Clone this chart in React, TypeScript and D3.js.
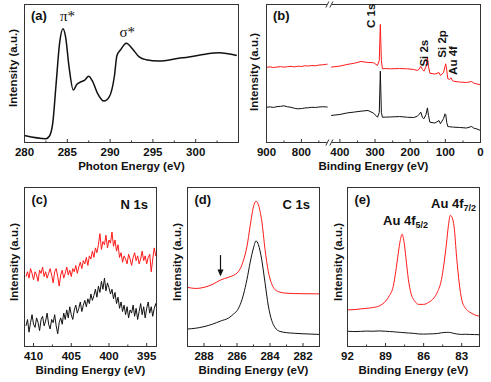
import React from 'react';
import * as d3 from 'd3';

// ---------- (a) C K-edge NEXAFS ----------
const nexafsEnergy = [280, 282.5, 282.9, 283.3, 283.7, 284.1, 284.5, 284.8, 285.2, 285.7, 286.1, 286.6, 287.0, 287.5, 287.9, 288.5, 289.3, 289.9, 290.5, 290.8, 291.2, 291.9, 292.6, 293.4, 294.2, 295.7, 298.0, 299.2, 301.1, 302.7, 304.8];
const nexafsIntensity = [0.05, 0.027, 0.045, 0.14, 0.43, 0.72, 0.825, 0.765, 0.55, 0.38, 0.42, 0.44, 0.45, 0.48, 0.45, 0.36, 0.30, 0.33, 0.48, 0.63, 0.67, 0.72, 0.68, 0.62, 0.60, 0.59, 0.61, 0.62, 0.64, 0.65, 0.63];
const nexafsTicks = [280, 285, 290, 295, 300];
const nexafsMinor = [282.5, 287.5, 292.5, 297.5, 302.5];

// ---------- (b) XPS survey (broken axis) ----------
const surveyLeftEnergy = [900, 890, 880, 870, 860, 850, 840, 830, 820, 810, 800, 790, 780, 770, 760, 750, 740, 730, 725];
const surveyLeftRed = [0.545, 0.548, 0.543, 0.547, 0.550, 0.546, 0.549, 0.552, 0.548, 0.553, 0.551, 0.556, 0.554, 0.558, 0.556, 0.561, 0.563, 0.566, 0.568];
const surveyLeftBlack = [0.256, 0.258, 0.254, 0.260, 0.262, 0.266, 0.259, 0.255, 0.248, 0.244, 0.246, 0.250, 0.252, 0.255, 0.254, 0.257, 0.259, 0.258, 0.257];
const surveyRightEnergy = [425, 400, 380, 358, 340, 320, 304, 293, 288, 285, 282, 279, 270, 256, 230, 208, 190, 180, 175, 170, 165, 161, 155, 151, 148, 144, 130, 118, 114, 105, 101, 99, 96, 93, 88, 84, 80, 76, 60, 40, 25, 19, 10, 0];
const surveyRightRed = [0.546, 0.554, 0.565, 0.575, 0.587, 0.580, 0.578, 0.558, 0.594, 0.855, 0.594, 0.534, 0.536, 0.534, 0.536, 0.534, 0.529, 0.522, 0.530, 0.551, 0.529, 0.517, 0.550, 0.618, 0.551, 0.502, 0.496, 0.507, 0.486, 0.507, 0.551, 0.570, 0.522, 0.462, 0.457, 0.469, 0.449, 0.444, 0.438, 0.435, 0.442, 0.430, 0.424, 0.418];
const surveyRightBlack = [0.196, 0.203, 0.214, 0.221, 0.227, 0.232, 0.212, 0.183, 0.217, 0.517, 0.217, 0.183, 0.184, 0.185, 0.188, 0.183, 0.181, 0.190, 0.203, 0.220, 0.181, 0.172, 0.203, 0.251, 0.196, 0.147, 0.141, 0.159, 0.136, 0.174, 0.208, 0.203, 0.145, 0.116, 0.114, 0.113, 0.112, 0.111, 0.109, 0.105, 0.116, 0.104, 0.098, 0.087];
const surveyLeftTicks = [900, 800];
const surveyLeftMinor = [850, 750];
const surveyRightTicks = [400, 300, 200, 100, 0];
const surveyRightMinor = [350, 250, 150, 50];
// label anchor (energy, intensity) = baseline / lower end of the rotated label
const surveyPeakLabels = ['C 1s', 'Si 2s', 'Si 2p', 'Au 4f'];
const surveyPeakLabelEnergy = [300, 150, 98, 68];
const surveyPeakLabelValue = [0.83, 0.55, 0.615, 0.49];

// ---------- (c) N 1s ----------
const n1sStart = 411.0;
const n1sStep = -0.2;
const n1sRed = [0.44, 0.47, 0.43, 0.49, 0.46, 0.42, 0.47, 0.45, 0.41, 0.48, 0.46, 0.50, 0.44, 0.47, 0.43, 0.46, 0.49, 0.45, 0.40, 0.47, 0.49, 0.44, 0.38, 0.45, 0.48, 0.43, 0.46, 0.50, 0.45, 0.48, 0.44, 0.49, 0.47, 0.51, 0.46, 0.50, 0.53, 0.49, 0.54, 0.52, 0.56, 0.51, 0.57, 0.55, 0.60, 0.56, 0.62, 0.59, 0.64, 0.71, 0.61, 0.66, 0.64, 0.70, 0.62, 0.67, 0.65, 0.72, 0.63, 0.67, 0.60, 0.64, 0.56, 0.59, 0.53, 0.57, 0.55, 0.52, 0.58, 0.55, 0.51, 0.56, 0.59, 0.54, 0.57, 0.52, 0.55, 0.60, 0.54, 0.57, 0.52, 0.56, 0.58, 0.47, 0.55, 0.62, 0.57, 0.60];
const n1sBlack = [0.13, 0.17, 0.09, 0.15, 0.20, 0.14, 0.12, 0.18, 0.15, 0.10, 0.17, 0.19, 0.13, 0.16, 0.21, 0.14, 0.11, 0.17, 0.15, 0.20, 0.13, 0.08, 0.15, 0.18, 0.14, 0.21, 0.17, 0.23, 0.18, 0.25, 0.20, 0.17, 0.23, 0.26, 0.21, 0.24, 0.28, 0.22, 0.26, 0.29, 0.25, 0.30, 0.27, 0.33, 0.29, 0.32, 0.36, 0.31, 0.38, 0.34, 0.41, 0.36, 0.43, 0.35, 0.40, 0.37, 0.33, 0.36, 0.30, 0.34, 0.27, 0.31, 0.24, 0.28, 0.22, 0.26, 0.20, 0.25, 0.18, 0.23, 0.21, 0.26, 0.19, 0.24, 0.17, 0.22, 0.27, 0.20, 0.25, 0.18, 0.24, 0.28, 0.21, 0.25, 0.19, 0.24, 0.27, 0.22];
const n1sTicks = [410, 405, 400, 395];
const n1sMinor = [407.5, 402.5, 397.5];

// ---------- (d) C 1s ----------
const c1sEnergy = [289.0, 288.5, 288.0, 287.5, 287.0, 286.5, 286.2, 286.0, 285.8, 285.6, 285.4, 285.2, 285.0, 284.85, 284.7, 284.5, 284.3, 284.1, 283.9, 283.7, 283.4, 283.0, 282.5, 282.0, 281.0];
const c1sRed = [0.372, 0.365, 0.372, 0.390, 0.418, 0.436, 0.448, 0.462, 0.490, 0.545, 0.627, 0.760, 0.880, 0.914, 0.890, 0.790, 0.610, 0.470, 0.395, 0.358, 0.342, 0.335, 0.333, 0.332, 0.331];
const c1sBlack = [0.110, 0.115, 0.125, 0.140, 0.160, 0.180, 0.205, 0.225, 0.265, 0.330, 0.420, 0.530, 0.620, 0.664, 0.640, 0.545, 0.400, 0.255, 0.165, 0.120, 0.095, 0.087, 0.083, 0.080, 0.076];
const c1sTicks = [288, 286, 284, 282];
const c1sMinor = [287, 285, 283];
const c1sArrow = { energy: 287.0, from: 0.575, to: 0.44 };

// ---------- (e) Au 4f ----------
const au4fEnergy = [92, 91.5, 91, 90.5, 90, 89.5, 89, 88.7, 88.4, 88.2, 88.0, 87.85, 87.7, 87.55, 87.4, 87.2, 87.0, 86.7, 86.4, 86.0, 85.6, 85.2, 84.9, 84.6, 84.4, 84.2, 84.05, 83.9, 83.75, 83.6, 83.4, 83.2, 83.0, 82.7, 82.4, 82.0, 81.6];
const au4fRed = [0.230, 0.232, 0.236, 0.240, 0.245, 0.255, 0.285, 0.320, 0.377, 0.470, 0.586, 0.665, 0.706, 0.660, 0.560, 0.420, 0.335, 0.285, 0.265, 0.265, 0.278, 0.305, 0.345, 0.420, 0.520, 0.650, 0.760, 0.825, 0.810, 0.752, 0.560, 0.400, 0.295, 0.240, 0.218, 0.200, 0.190];
const au4fBlack = [0.096, 0.094, 0.095, 0.097, 0.096, 0.098, 0.096, 0.094, 0.093, 0.091, 0.090, 0.089, 0.088, 0.087, 0.086, 0.085, 0.084, 0.082, 0.079, 0.078, 0.079, 0.080, 0.082, 0.086, 0.088, 0.089, 0.089, 0.088, 0.085, 0.082, 0.079, 0.077, 0.076, 0.077, 0.076, 0.075, 0.074];
const au4fTicks = [92, 89, 86, 83];
const au4fMinor = [90.5, 87.5, 84.5];

// ---------- layout ----------
const FONT = "'Liberation Sans', Arial, Helvetica, sans-serif";
const SERIF = "'Liberation Serif', 'Times New Roman', serif";
const RED = '#ff1a1a';
const BLK = '#111';
const FRAME = '#333';

type Box = { x0: number; x1: number; y0: number; y1: number };
const boxA: Box = { x0: 24.5, x1: 238.5, y0: 4.5, y1: 142.5 };
const boxB: Box = { x0: 266.5, x1: 480.5, y0: 4.5, y1: 142.5 };
const boxC: Box = { x0: 24.5, x1: 156.5, y0: 187.5, y1: 346.5 };
const boxD: Box = { x0: 187.5, x1: 319.5, y0: 187.5, y1: 346.5 };
const boxE: Box = { x0: 347.5, x1: 479.5, y0: 187.5, y1: 346.5 };

type Pt = [number, number];
const zip = (xs: number[], ys: number[]): Pt[] => xs.map((x, i) => [x, ys[i]]);

function Frame({ b }: { b: Box }) {
  return <rect x={b.x0} y={b.y0} width={b.x1 - b.x0} height={b.y1 - b.y0} fill="none" stroke={FRAME} strokeWidth={1} />;
}

function Ticks({ scale, majors, minors, b }: { scale: (v: number) => number; majors: number[]; minors: number[]; b: Box }) {
  return (
    <g>
      {majors.map((t) => (
        <line key={'M' + t} x1={scale(t)} x2={scale(t)} y1={b.y1} y2={b.y1 - 3.5} stroke={FRAME} strokeWidth={1} />
      ))}
      {minors.map((t) => (
        <line key={'m' + t} x1={scale(t)} x2={scale(t)} y1={b.y1} y2={b.y1 - 2} stroke={FRAME} strokeWidth={1} />
      ))}
      {majors.map((t) => (
        <text key={'L' + t} x={scale(t)} y={b.y1 + 13.5} textAnchor="middle" fontFamily={FONT} fontWeight="bold" fontSize={11.5} fill="#111">
          {String(t)}
        </text>
      ))}
    </g>
  );
}

function XTitle({ b, text }: { b: Box; text: string }) {
  return (
    <text x={(b.x0 + b.x1) / 2} y={b.y1 + 27} textAnchor="middle" fontFamily={FONT} fontWeight="bold" fontSize={11.5} fill="#111">
      {text}
    </text>
  );
}

function YTitle({ x, y }: { x: number; y: number }) {
  return (
    <text transform={`translate(${x},${y}) rotate(-90)`} textAnchor="middle" fontFamily={FONT} fontWeight="bold" fontSize={11.5} fill="#111">
      Intensity (a.u.)
    </text>
  );
}

function Label({ x, y, text, anchor = 'start', size = 13 }: { x: number; y: number; text: string; anchor?: string; size?: number }) {
  return (
    <text x={x} y={y} textAnchor={anchor as any} fontFamily={FONT} fontWeight="bold" fontSize={size} fill="#111">
      {text}
    </text>
  );
}

export default function App() {
  // (a)
  const xA = d3.scaleLinear().domain([280, 305]).range([boxA.x0, boxA.x1]);
  const yA = d3.scaleLinear().domain([0, 1]).range([boxA.y1, boxA.y0]);
  const lineA = d3.line<Pt>().x((d) => xA(d[0])).y((d) => yA(d[1])).curve(d3.curveMonotoneX);

  // (b)
  const xBL = d3.scaleLinear().domain([900, 725]).range([boxB.x0, boxB.x0 + 175 * 0.349]);
  const xBR = d3.scaleLinear().domain([425, 0]).range([boxB.x1 - 425 * 0.3515, boxB.x1]);
  const yB = d3.scaleLinear().domain([0, 1]).range([boxB.y1, boxB.y0]);
  const lineBL = d3.line<Pt>().x((d) => xBL(d[0])).y((d) => yB(d[1]));
  const lineBR = d3.line<Pt>().x((d) => xBR(d[0])).y((d) => yB(d[1]));
  const breakX = (xBL(725) + xBR(425)) / 2;
  const bTickScale = (v: number) => (v >= 600 ? xBL(v) : xBR(v));

  // (c)
  const n1sEnergy = n1sRed.map((_, i) => +(n1sStart + i * n1sStep).toFixed(2));
  const xC = d3.scaleLinear().domain([411.2, 393.7]).range([boxC.x0, boxC.x1]);
  const yC = d3.scaleLinear().domain([0, 1]).range([boxC.y1, boxC.y0]);
  const lineC = d3.line<Pt>().x((d) => xC(d[0])).y((d) => yC(d[1]));

  // (d)
  const xD = d3.scaleLinear().domain([289, 281]).range([boxD.x0, boxD.x1]);
  const yD = d3.scaleLinear().domain([0, 1]).range([boxD.y1, boxD.y0]);
  const lineD = d3.line<Pt>().x((d) => xD(d[0])).y((d) => yD(d[1])).curve(d3.curveMonotoneX);

  // (e)
  const xE = d3.scaleLinear().domain([92, 81.6]).range([boxE.x0, boxE.x1]);
  const yE = d3.scaleLinear().domain([0, 1]).range([boxE.y1, boxE.y0]);
  const lineE = d3.line<Pt>().x((d) => xE(d[0])).y((d) => yE(d[1])).curve(d3.curveMonotoneX);

  const ax = xD(c1sArrow.energy);
  const ay0 = yD(c1sArrow.from);
  const ay1 = yD(c1sArrow.to);

  return (
    <svg width={491} height={382} style={{ position: 'absolute', left: 0, top: 0, background: '#fff' }}>
      <defs>
        <clipPath id="clipC"><rect x={boxC.x0} y={boxC.y0} width={boxC.x1 - boxC.x0} height={boxC.y1 - boxC.y0} /></clipPath>
        <clipPath id="clipD"><rect x={boxD.x0} y={boxD.y0} width={boxD.x1 - boxD.x0} height={boxD.y1 - boxD.y0} /></clipPath>
        <clipPath id="clipE"><rect x={boxE.x0} y={boxE.y0} width={boxE.x1 - boxE.x0} height={boxE.y1 - boxE.y0} /></clipPath>
      </defs>
      <rect width={491} height={382} fill="#fff" />

      {/* (a) */}
      <path d={lineA(zip(nexafsEnergy, nexafsIntensity)) || ''} fill="none" stroke={BLK} strokeWidth={1.5} />
      <Frame b={boxA} />
      <Ticks scale={xA} majors={nexafsTicks} minors={nexafsMinor} b={boxA} />
      <XTitle b={boxA} text="Photon Energy (eV)" />
      <YTitle x={17} y={68} />
      <Label x={31} y={19.5} text="(a)" />
      <text x={60} y={21} fontFamily={SERIF} fontSize={15} fill="#111">π*</text>
      <text x={119.5} y={36.5} fontFamily={SERIF} fontSize={15} fill="#111">σ*</text>

      {/* (b) */}
      <path d={lineBL(zip(surveyLeftEnergy, surveyLeftRed)) || ''} fill="none" stroke={RED} strokeWidth={1} />
      <path d={lineBL(zip(surveyLeftEnergy, surveyLeftBlack)) || ''} fill="none" stroke={BLK} strokeWidth={1} />
      <path d={lineBR(zip(surveyRightEnergy, surveyRightRed)) || ''} fill="none" stroke={RED} strokeWidth={1} />
      <path d={lineBR(zip(surveyRightEnergy, surveyRightBlack)) || ''} fill="none" stroke={BLK} strokeWidth={1} />
      <Frame b={boxB} />
      <Ticks scale={bTickScale} majors={[...surveyLeftTicks, ...surveyRightTicks]} minors={[...surveyLeftMinor, ...surveyRightMinor]} b={boxB} />
      {[boxB.y0, boxB.y1].map((yy) => (
        <g key={yy}>
          <rect x={breakX - 2.5} y={yy - 1} width={5} height={2} fill="#fff" />
          <line x1={breakX - 3.5} y1={yy + 3} x2={breakX - 0.5} y2={yy - 3} stroke={FRAME} strokeWidth={1} />
          <line x1={breakX + 0.5} y1={yy + 3} x2={breakX + 3.5} y2={yy - 3} stroke={FRAME} strokeWidth={1} />
        </g>
      ))}
      <XTitle b={boxB} text="Binding Energy (eV)" />
      <YTitle x={258} y={72} />
      <Label x={273} y={19.5} text="(b)" />
      {surveyPeakLabels.map((lab, i) => (
        <text key={lab} transform={`translate(${xBR(surveyPeakLabelEnergy[i])},${yB(surveyPeakLabelValue[i])}) rotate(-90)`} fontFamily={FONT} fontWeight="bold" fontSize={11.5} fill="#111">
          {lab}
        </text>
      ))}

      {/* (c) */}
      <g clipPath="url(#clipC)">
        <path d={lineC(zip(n1sEnergy, n1sRed)) || ''} fill="none" stroke={RED} strokeWidth={1} />
        <path d={lineC(zip(n1sEnergy, n1sBlack)) || ''} fill="none" stroke={BLK} strokeWidth={1} />
      </g>
      <Frame b={boxC} />
      <Ticks scale={xC} majors={n1sTicks} minors={n1sMinor} b={boxC} />
      <XTitle b={boxC} text="Binding Energy (eV)" />
      <YTitle x={18} y={262} />
      <Label x={31.5} y={204} text="(c)" />
      <Label x={148} y={208.5} text="N 1s" anchor="end" />

      {/* (d) */}
      <g clipPath="url(#clipD)">
        <path d={lineD(zip(c1sEnergy, c1sRed)) || ''} fill="none" stroke={RED} strokeWidth={1} />
        <path d={lineD(zip(c1sEnergy, c1sBlack)) || ''} fill="none" stroke={BLK} strokeWidth={1} />
      </g>
      <Frame b={boxD} />
      <Ticks scale={xD} majors={c1sTicks} minors={c1sMinor} b={boxD} />
      <XTitle b={boxD} text="Binding Energy (eV)" />
      <YTitle x={180.5} y={262} />
      <Label x={194.5} y={204} text="(d)" />
      <Label x={310} y={208.5} text="C 1s" anchor="end" />
      <line x1={ax} x2={ax} y1={ay0} y2={ay1 - 5} stroke={BLK} strokeWidth={1.2} />
      <path d={`M${ax - 3},${ay1 - 7} L${ax + 3},${ay1 - 7} L${ax},${ay1} Z`} fill={BLK} />

      {/* (e) */}
      <g clipPath="url(#clipE)">
        <path d={lineE(zip(au4fEnergy, au4fRed)) || ''} fill="none" stroke={RED} strokeWidth={1} />
        <path d={lineE(zip(au4fEnergy, au4fBlack)) || ''} fill="none" stroke={BLK} strokeWidth={1} />
      </g>
      <Frame b={boxE} />
      <Ticks scale={xE} majors={au4fTicks} minors={au4fMinor} b={boxE} />
      <XTitle b={boxE} text="Binding Energy (eV)" />
      <YTitle x={341.5} y={262} />
      <Label x={354.5} y={204} text="(e)" />
      <text x={383} y={225} fontFamily={FONT} fontWeight="bold" fontSize={13} fill="#111">
        Au 4f<tspan fontSize={9} dy={3}>5/2</tspan>
      </text>
      <text x={431} y={207.5} fontFamily={FONT} fontWeight="bold" fontSize={13} fill="#111">
        Au 4f<tspan fontSize={9} dy={3}>7/2</tspan>
      </text>
    </svg>
  );
}
